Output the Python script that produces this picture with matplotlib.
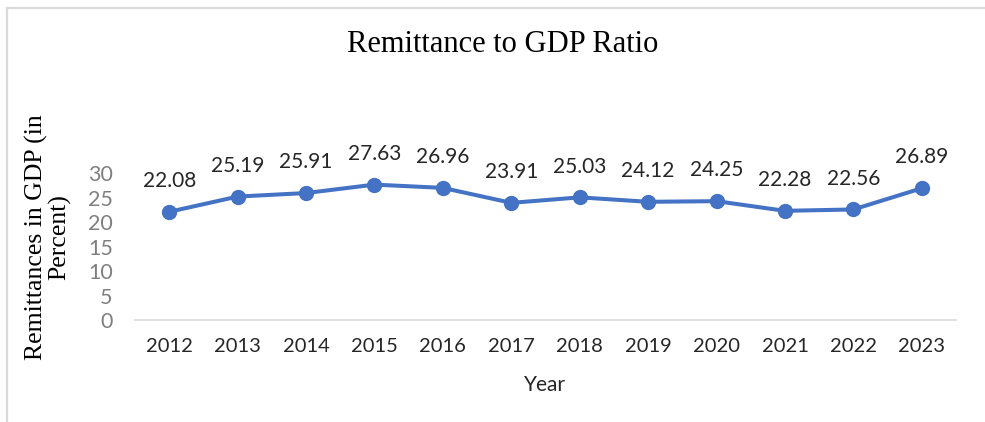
import matplotlib
matplotlib.use("Agg")
import matplotlib.pyplot as plt
from matplotlib.lines import Line2D

years = ["2012", "2013", "2014", "2015", "2016", "2017", "2018", "2019", "2020", "2021", "2022", "2023"]
ratio = [22.08, 25.19, 25.91, 27.63, 26.96, 23.91, 25.03, 24.12, 24.25, 22.28, 22.56, 26.89]
yticks = [0, 5, 10, 15, 20, 25, 30]

W, H = 985, 422
fig = plt.figure(figsize=(W / 100, H / 100), dpi=100)

sans = ["Lato", "DejaVu Sans"]
serif = ["Liberation Serif", "DejaVu Serif"]

# outer chart border (top and left visible)
fig.add_artist(Line2D([7 / W, 7 / W], [0, 1 - 8 / H], color="#d9d9d9", lw=1.6, transform=fig.transFigure))
fig.add_artist(Line2D([7 / W, 1], [1 - 8 / H, 1 - 8 / H], color="#d9d9d9", lw=1.6, transform=fig.transFigure))

ax = fig.add_axes([135 / W, (H - 320) / H, 821 / W, 147 / H])
x = list(range(len(years)))
ax.plot(x, ratio, color="#4472C4", lw=2.9, marker="o", markersize=10, clip_on=False, zorder=3)
for xi, v in zip(x, ratio):
    ax.annotate(f"{v:.2f}", (xi, v), xytext=(0, 15), textcoords="offset points",
                ha="center", va="bottom", fontsize=15, color="#262626", family=sans)

ax.set_xlim(-0.5, len(years) - 0.5)
ax.set_ylim(0, 30)
ax.set_yticks(yticks)
ax.set_yticklabels([str(t) for t in yticks], family=sans, fontsize=15.5, color="#7f7f7f")
ax.set_xticks(x)
ax.set_xticklabels(years, family=sans, fontsize=14.5, color="#262626")
ax.tick_params(axis="both", length=0)
ax.tick_params(axis="y", pad=16)
ax.tick_params(axis="x", pad=13)
for s in ["top", "right", "left"]:
    ax.spines[s].set_visible(False)
ax.spines["bottom"].set_color("#d9d9d9")
ax.spines["bottom"].set_linewidth(1.2)

fig.text(503 / W, 1 - 45 / H, "Remittance to GDP Ratio", ha="center", va="center",
         family=serif, fontsize=22, color="#000000")
fig.text(545 / W, 1 - 385 / H, "Year", ha="center", va="center",
         family=sans, fontsize=15, color="#262626")
fig.text(48 / W, 1 - 237 / H, "Remittances in GDP (in\nPercent)", ha="center", va="center",
         rotation=90, family=serif, fontsize=18.5, color="#000000", linespacing=1.0,
         multialignment="center")

fig.savefig("out.png", dpi=100, facecolor="white")
